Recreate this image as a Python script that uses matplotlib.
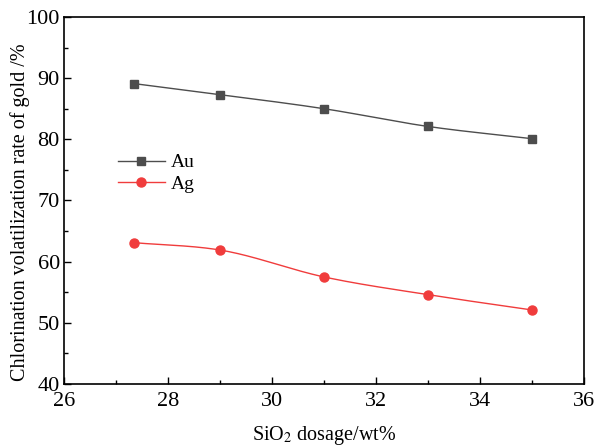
import numpy as np
import matplotlib
matplotlib.use("Agg")
import matplotlib.pyplot as plt
from matplotlib.ticker import MultipleLocator
from matplotlib.lines import Line2D

plt.rcParams['font.family'] = ['Liberation Serif', 'DejaVu Serif']
plt.rcParams['mathtext.fontset'] = 'stix'

sio2 = [27.35, 29, 31, 33, 35]
au = [89.1, 87.3, 85.0, 82.1, 80.1]
ag = [63.1, 61.9, 57.5, 54.6, 52.1]


def smooth(x, y, n=60):
    x = np.asarray(x, float); y = np.asarray(y, float)
    m = np.gradient(y, x)
    xs, ys = [], []
    for i in range(len(x) - 1):
        h = x[i + 1] - x[i]
        t = np.linspace(0, 1, n)
        h00 = 2*t**3 - 3*t**2 + 1
        h10 = t**3 - 2*t**2 + t
        h01 = -2*t**3 + 3*t**2
        h11 = t**3 - t**2
        xs.append(x[i] + t*h)
        ys.append(h00*y[i] + h10*h*m[i] + h01*y[i+1] + h11*h*m[i+1])
    return np.concatenate(xs), np.concatenate(ys)


fig = plt.figure(figsize=(5.95, 4.46), dpi=100)
ax = fig.add_axes([0.1076, 0.139, 0.874, 0.823])

c_au = '#4d4d4d'
c_ag = '#f03c3c'
for xv, yv, c, mk, ms in [(sio2, au, c_au, 's', 5.2), (sio2, ag, c_ag, 'o', 6.5)]:
    sx, sy = smooth(xv, yv)
    ax.plot(sx, sy, color=c, lw=1.0)
    ax.plot(xv, yv, linestyle='none', marker=mk, color=c, ms=ms)

handles = [Line2D([], [], color=c_au, lw=1.0, marker='s', ms=5.2),
           Line2D([], [], color=c_ag, lw=1.0, marker='o', ms=6.5)]
ax.legend(handles, ['Au', 'Ag'], loc='upper left', bbox_to_anchor=(0.07, 0.675),
          frameon=False, fontsize=14, handlelength=2.4, handletextpad=0.3,
          labelspacing=0.2)

ax.set_xlim(26, 36)
ax.set_ylim(40, 100)
ax.xaxis.set_major_locator(MultipleLocator(2))
ax.xaxis.set_minor_locator(MultipleLocator(1))
ax.yaxis.set_major_locator(MultipleLocator(10))
ax.yaxis.set_minor_locator(MultipleLocator(5))
ax.tick_params(which='both', direction='in', labelsize=16, width=1.0)
ax.tick_params(which='major', length=5)
ax.tick_params(which='minor', length=3)
ax.tick_params(axis='x', pad=6)
ax.tick_params(axis='y', pad=3)
for s in ax.spines.values():
    s.set_linewidth(1.2)

ax.set_xlabel('SiO$_2$ dosage/wt%', fontsize=14.5, labelpad=9)
ax.set_ylabel('Chlorination volatilization rate of gold /%', fontsize=14.5)
ax.yaxis.set_label_coords(-0.066, 0.469)

fig.savefig('out.png', dpi=100)
